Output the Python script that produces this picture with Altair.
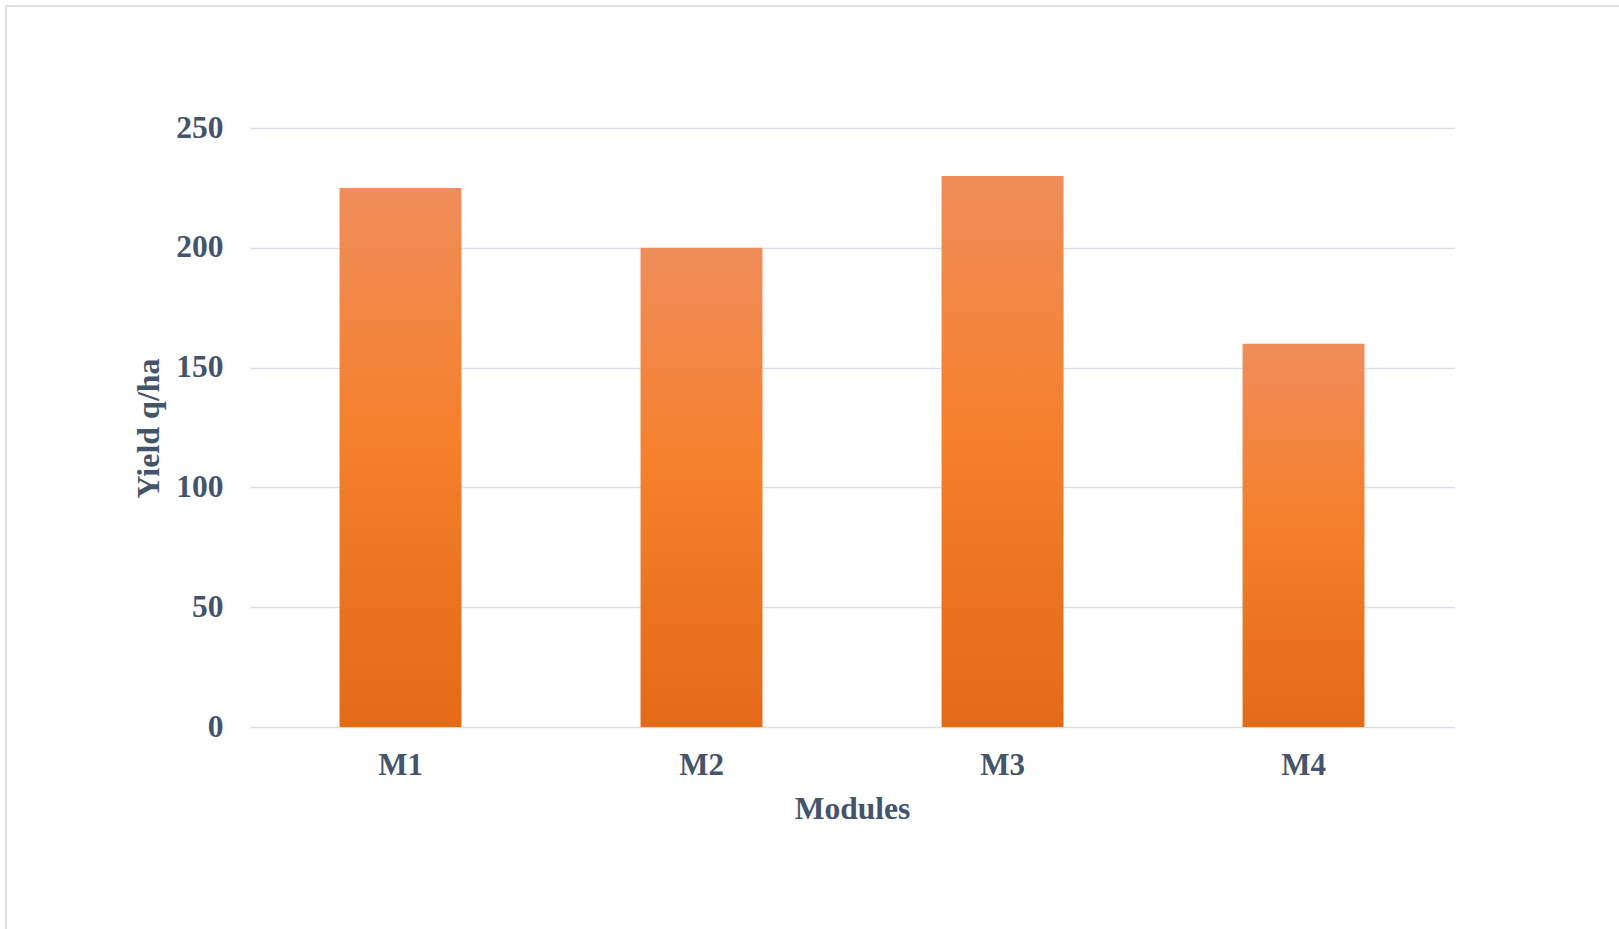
import altair as alt
import pandas as pd

# Yield per module (q/ha)
modules = ["M1", "M2", "M3", "M4"]
yields = [225, 200, 230, 160]

df = pd.DataFrame({"Module": modules, "Yield": yields})

TEXT = "#44546A"
GRID = "#D9DEE7"
FONT = "Liberation Serif"

PLOT_W, PLOT_H = 1204, 599
PAD_L, PAD_T = 250, 128

bar_fill = alt.Gradient(
    gradient="linear",
    x1=0, x2=0, y1=0, y2=1,
    stops=[
        alt.GradientStop(color="#F08D5A", offset=0),
        alt.GradientStop(color="#F5802D", offset=0.45),
        alt.GradientStop(color="#E46A17", offset=1),
    ],
)

bars = alt.Chart(df).mark_bar(color=bar_fill, clip=False).encode(
    x=alt.X(
        "Module:N",
        sort=modules,
        scale=alt.Scale(paddingInner=0.595, paddingOuter=0.2975),
        axis=alt.Axis(
            title="Modules",
            labelAngle=0,
            labelFont=FONT, labelFontSize=31, labelFontWeight="bold", labelColor=TEXT,
            labelBaseline="alphabetic", labelPadding=47,
            ticks=False, tickSize=0, domain=False, grid=False,
            titleFont=FONT, titleFontSize=31.5, titleFontWeight="bold", titleColor=TEXT,
            titleBaseline="alphabetic", titleY=91,
        ),
    ),
    y=alt.Y(
        "Yield:Q",
        scale=alt.Scale(domain=[0, 250], nice=False),
        axis=alt.Axis(
            title="Yield q/ha",
            values=[0, 50, 100, 150, 200, 250],
            labelFont=FONT, labelFontSize=31.5, labelFontWeight="bold", labelColor=TEXT,
            labelPadding=27,
            ticks=False, tickSize=0, domain=False,
            grid=True, gridColor=GRID, gridWidth=1.4,
            titleFont=FONT, titleFontSize=32, titleFontWeight="bold", titleColor=TEXT,
            titleAngle=270, titleAlign="center", titleBaseline="alphabetic",
            titleX=-92, titleY=300,
        ),
    ),
)

# outer frame (top and left edges)
frame_top = alt.Chart(df).mark_rule(color=GRID, strokeWidth=1.5, clip=False).encode(
    x=alt.value(6 - PAD_L), x2=alt.value(1619 - PAD_L), y=alt.value(6 - PAD_T)
)
frame_left = alt.Chart(df).mark_rule(color=GRID, strokeWidth=1.5, clip=False).encode(
    x=alt.value(6 - PAD_L), y=alt.value(6 - PAD_T), y2=alt.value(929 - PAD_T)
)

chart = alt.layer(frame_top, frame_left, bars).properties(
    width=PLOT_W,
    height=PLOT_H,
    autosize=alt.AutoSizeParams(type="none"),
    padding={"left": PAD_L, "top": PAD_T, "right": 1619 - PAD_L - PLOT_W, "bottom": 929 - PAD_T - PLOT_H},
    background="white",
).configure_view(stroke=None)

chart.save("out.html", embed_options={"renderer": "svg", "actions": False})
